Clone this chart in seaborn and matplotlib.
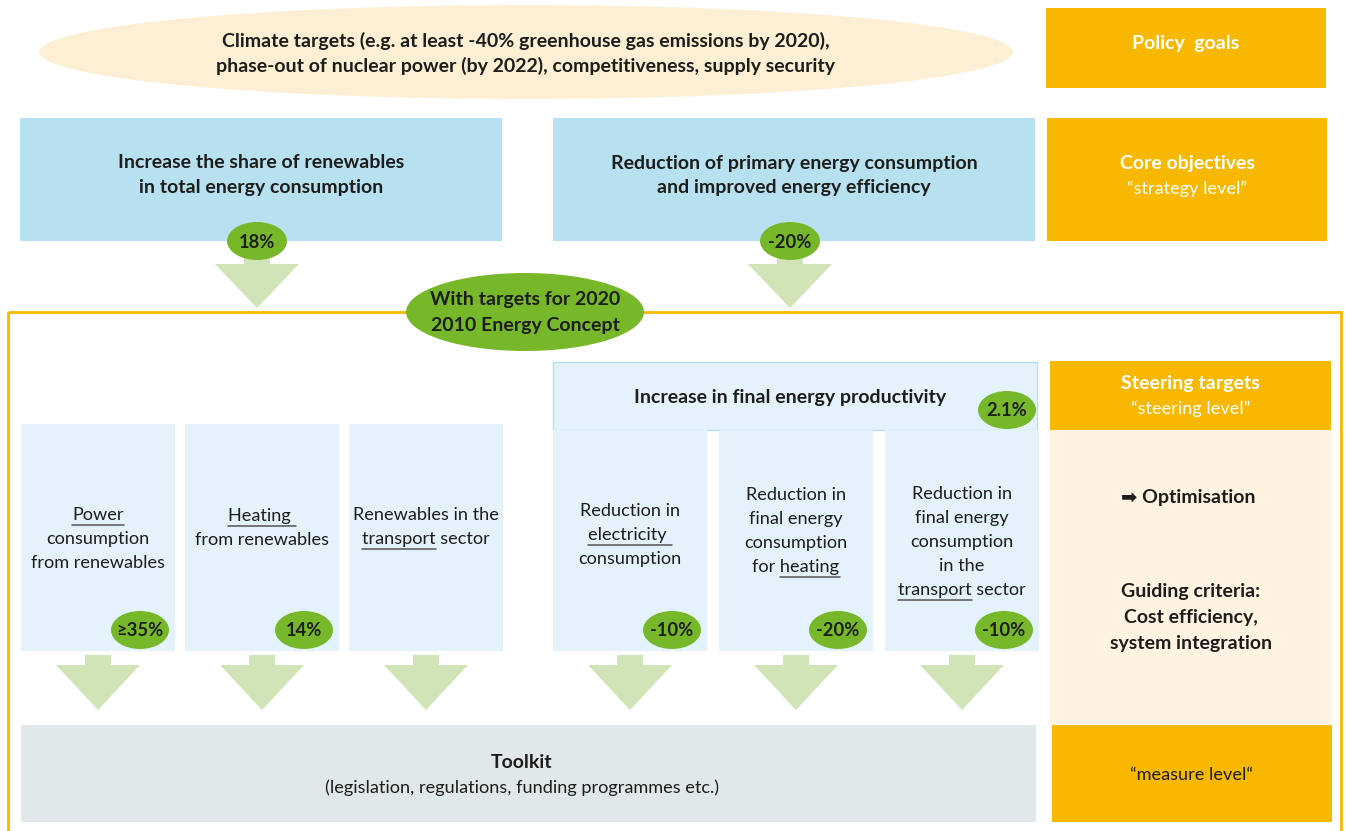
import matplotlib.pyplot as plt
from matplotlib.patches import Ellipse, Rectangle, Polygon
import seaborn as sns

sns.set_theme(style="white")
plt.rcParams["font.family"] = ["Lato", "DejaVu Sans"]

ORANGE = "#f8b800"
CREAM = "#fcefd4"
BLUE = "#b7e1f1"
PALE_BLUE = "#e4f3fb"
GREEN = "#77b82a"
ARROW = "#d0e4b7"
BEIGE = "#fef3e1"
GREY = "#e1e8eb"
INK = "#1d1d1b"

# ---- content ----
policy_goals = ["Climate targets (e.g. at least -40% greenhouse gas emissions by 2020),",
                "phase-out of nuclear power (by 2022), competitiveness, supply security"]
core_objectives = [["Increase the share of renewables", "in total energy consumption"],
                   ["Reduction of primary energy consumption", "and improved energy efficiency"]]
core_targets = ["18%", "-20%"]
concept_label = ["With targets for 2020", "2010 Energy Concept"]
productivity_label = "Increase in final energy productivity"
productivity_target = "2.1%"
column_lines = [["Power", "consumption", "from renewables"],
                ["Heating ", "from renewables"],
                ["Renewables in the", "transport sector"],
                ["Reduction in", "electricity ", "consumption"],
                ["Reduction in", "final energy", "consumption", "for heating"],
                ["Reduction in", "final energy", "consumption", "in the", "transport sector"]]
column_underlined = ["Power", "Heating ", "transport", "electricity ", "heating", "transport"]
column_targets = ["\u226535%", "14%", None, "-10%", "-20%", "-10%"]
level_titles = ["Policy  goals", "Core objectives", "Steering targets", None, None]
level_subtitles = [None, "\u201cstrategy level\u201d", "\u201csteering level\u201d", None, "\u201cmeasure level\u201c"]
guiding = ["Guiding criteria:", "Cost efficiency,", "system integration"]
toolkit = ["Toolkit", "(legislation, regulations, funding programmes etc.)"]

# ---- layout (pixels) ----
W, H = 1346, 831
col_left = [21, 185, 349, 553, 719, 885]
col_width = 154
col_top = [424, 424, 424, 430, 430, 430]
col_bottom = 651
col_text_top = [515, 516, 515, 511, 495, 494]
FS = 13.1      # regular text
FSB = 14.0     # bold text

fig = plt.figure(figsize=(W / 100, H / 100), dpi=100)
ax = fig.add_axes([0, 0, 1, 1])
ax.set_xlim(0, W)
ax.set_ylim(H, 0)
ax.axis("off")
renderer = fig.canvas.get_renderer()


def box(x, y, w, h, fc, ec="none", lw=0, z=1):
    ax.add_patch(Rectangle((x, y), w, h, fc=fc, ec=ec, lw=lw, zorder=z))


def badge(cx, cy, label, w=58, h=38):
    ax.add_patch(Ellipse((cx, cy), w, h, fc=GREEN, ec="none", zorder=5))
    ax.text(cx, cy + 1, label, ha="center", va="center", fontsize=13.2,
            fontweight="bold", color=INK, zorder=6)


def arrow(cx, stem_top, tri_top, tip, half=42, stem=13):
    ax.add_patch(Rectangle((cx - stem, stem_top), 2 * stem, tri_top - stem_top + 1,
                           fc=ARROW, ec="none", zorder=2))
    ax.add_patch(Polygon([(cx - half, tri_top), (cx + half, tri_top), (cx, tip)],
                         closed=True, fc=ARROW, ec="none", zorder=2))


def width_of(s, **kw):
    t = ax.text(0, 0, s, **kw)
    w = t.get_window_extent(renderer).width
    t.remove()
    return w


def line(x, y, s, under=None, bold=False, **kw):
    kw.setdefault("color", INK)
    fs = FSB if bold else FS
    weight = "bold" if bold else "normal"
    t = ax.text(x, y, s, ha="center", va="center", zorder=6,
                fontsize=fs, fontweight=weight, **kw)
    if under and under in s:
        ext = t.get_window_extent(renderer)
        pre = s[:s.index(under) + len(under)]
        x1 = ext.x0 + width_of(pre, fontsize=fs)
        x0 = x1 - width_of(under, fontsize=fs)
        ax.plot([x0, x1], [y + 10, y + 10], color="#555555", lw=1.1, zorder=6)


# policy goals ellipse
ax.add_patch(Ellipse((526, 52), 974, 94, fc=CREAM, ec="none", zorder=1))
for i, s in enumerate(policy_goals):
    line(526, 41 + 25 * i, s, bold=True)

# right-hand level boxes
level_boxes = [(1046, 8, 280, 80), (1047, 118, 280, 123), (1050, 361, 281, 69),
               None, (1052, 725, 280, 97)]
level_offsets = [-4, -4, 0, 0, 0]
for b, title, sub, off in zip(level_boxes, level_titles, level_subtitles, level_offsets):
    if b is None:
        continue
    x, y, w, h = b
    box(x, y, w, h, ORANGE)
    cx, cy = x + w / 2, y + h / 2 + off
    if title and sub:
        line(cx, cy - 12, title, bold=True, color="white")
        line(cx, cy + 13, sub, color="white")
    elif title:
        line(cx, cy, title, bold=True, color="white")
    else:
        line(cx, cy + 2, sub, color=INK)

# core objectives
for i, (lines, tgt) in enumerate(zip(core_objectives, core_targets)):
    x = 20 + 533 * i
    box(x, 118, 482, 123, BLUE)
    cx = x + 241
    for j, s in enumerate(lines):
        line(cx, 163 + 25 * j, s, bold=True)
    arrow(cx - 4, 252, 264, 308)
    badge(cx - 4, 241, tgt, w=60, h=38)

# orange frame
ax.add_patch(Rectangle((8, 312), 1333, 600, fc="none", ec=ORANGE, lw=2, zorder=1))
ax.add_patch(Ellipse((525, 312), 238, 78, fc=GREEN, ec="none", zorder=5))
for j, s in enumerate(concept_label):
    line(525, 300 + 25 * j, s, bold=True)

# productivity box
box(553, 362, 484, 68, PALE_BLUE, ec=BLUE, lw=1, z=1)
line(790, 397, productivity_label, bold=True)
badge(1007, 410, productivity_target)

# columns
for left, top, lines, und, tgt, ttop in zip(col_left, col_top, column_lines,
                                            column_underlined, column_targets, col_text_top):
    box(left, top, col_width, col_bottom - top, PALE_BLUE, z=1)
    cx = left + col_width / 2
    for j, s in enumerate(lines):
        line(cx, ttop + 24 * j, s, under=und if und in s else None)
    if tgt:
        badge(left + col_width - 35, 630, tgt)
    arrow(cx, 655, 665, 710)

# beige panel on the right
box(1050, 430, 281, 295, BEIGE, z=1)
line(1188, 498, "\u27a1 Optimisation", bold=True)
for j, s in enumerate(guiding):
    line(1191, 592 + 25.5 * j, s, bold=True)

# toolkit
box(21, 725, 1015, 97, GREY, z=1)
line(522, 763, toolkit[0], bold=True)
line(522, 788, toolkit[1])

fig.savefig("out.png", dpi=100)
